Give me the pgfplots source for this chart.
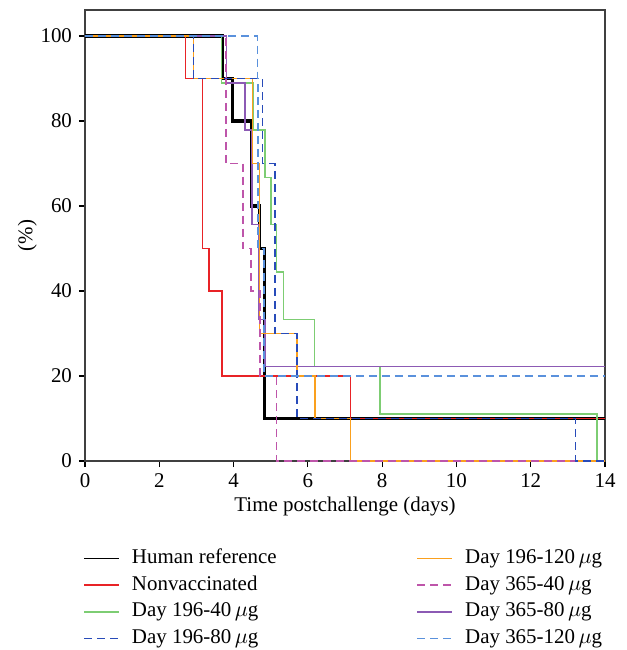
\documentclass[border=0pt]{standalone}
\usepackage{fontspec}
\setmainfont{Liberation Serif}
\usepackage{pgfplots}
\pgfplotsset{compat=1.18}
\definecolor{cRed}{RGB}{232,35,38}
\definecolor{cGreen}{RGB}{125,205,115}
\definecolor{cDBlue}{RGB}{40,75,185}
\definecolor{cOrange}{RGB}{250,160,30}
\definecolor{cPink}{RGB}{190,85,170}
\definecolor{cPurple}{RGB}{140,90,180}
\definecolor{cLBlue}{RGB}{90,145,220}
\begin{document}
\begin{tikzpicture}
\begin{axis}[
    scale only axis,
    width=260bp,
    height=225.5bp,
    xmin=0, xmax=14,
    ymin=0, ymax=106.1,
    xtick={0,2,...,14},
    ytick={0,20,...,100},
    tick pos=left,
    tick align=outside,
    major tick length=3bp,
    tick style={black, line width=0.6bp},
    axis line style={black!75, line width=0.7bp},
    clip=false,
    /pgf/number format/assume math mode=true,
    ticklabel style={font=\fontsize{10.5}{12}\selectfont},
    label style={font=\fontsize{10.5}{12}\selectfont},
    xlabel={Time postchallenge (days)},
    ylabel={(\%)},
    xlabel shift=-2.5bp,
    ylabel shift=-5bp,
    legend columns=2,
    legend cell align=left,
    legend style={
        at={(0,0)}, anchor=north west,
        xshift=-1bp, yshift=-43.5bp,
        draw=none, fill=none, inner sep=0pt,
        row sep=3.35bp, column sep=6bp,
        font=\fontsize{10.5}{12}\selectfont,
        nodes={inner sep=0pt, text height=7.5bp, text depth=2.5bp},
        /tikz/every even column/.append style={column sep=70bp},
    },
    legend image code/.code={\draw (0bp,0bp) -- (17.5bp,0bp);},
]
% Human reference
\addplot[const plot, black, line width=1.6bp, forget plot] coordinates {
    (0,100) (3.70,90) (3.98,80) (4.49,60) (4.70,50) (4.83,10) (14,10)
};
% Nonvaccinated
\addplot[const plot, cRed, line width=0.8bp, forget plot] coordinates {
    (0,100) (2.71,90) (3.16,50) (3.34,40) (3.69,20) (7.15,10) (14,10)
};
% Day 196-40
\addplot[const plot, cGreen, line width=0.8bp, forget plot] coordinates {
    (0,100) (3.68,88.9) (4.52,77.8) (4.85,66.7) (5.00,55.6) (5.16,44.4)
    (5.34,33.3) (6.18,22.2) (7.94,11.1) (13.78,0) (14,0)
};
% Day 365-80
\addplot[const plot, cPurple, line width=0.8bp, forget plot] coordinates {
    (0,100) (3.81,88.9) (4.31,77.8) (4.49,55.6) (4.68,33.3) (4.85,22.2) (14,22.2)
};
% Day 196-120
\addplot[const plot, cOrange, line width=0.8bp, forget plot] coordinates {
    (0,100) (2.92,90) (4.51,70) (4.70,30) (5.70,20) (6.19,10) (7.15,0) (14,0)
};
% Day 365-40
\addplot[const plot, cPink, line width=0.8bp, dash pattern=on 4bp off 2.5bp, forget plot] coordinates {
    (0,100) (3.80,70) (4.26,50) (4.47,40) (4.71,20) (5.16,0) (14,0)
};
% Day 196-80
\addplot[const plot, cDBlue, line width=0.8bp, dash pattern=on 4bp off 2.5bp, forget plot] coordinates {
    (0,100) (2.92,90) (4.78,70) (5.12,30) (5.70,10) (13.21,0) (14,0)
};
% Day 365-120
\addplot[const plot, cLBlue, line width=0.8bp, dash pattern=on 4bp off 2.5bp, forget plot] coordinates {
    (0,100) (4.64,90) (4.66,50) (4.82,20) (14,20)
};
\addlegendimage{black, line width=0.8bp}
\addlegendimage{cOrange, line width=0.8bp}
\addlegendimage{cRed, line width=0.8bp}
\addlegendimage{cPink, line width=0.8bp, dash pattern=on 4bp off 2.5bp}
\addlegendimage{cGreen, line width=0.8bp}
\addlegendimage{cPurple, line width=0.8bp}
\addlegendimage{cDBlue, line width=0.8bp, dash pattern=on 4bp off 2.5bp}
\addlegendimage{cLBlue, line width=0.8bp, dash pattern=on 4bp off 2.5bp}
\legend{Human reference, Day 196-120\,$\mu$g, Nonvaccinated, Day 365-40\,$\mu$g,
    Day 196-40\,$\mu$g, Day 365-80\,$\mu$g, Day 196-80\,$\mu$g, Day 365-120\,$\mu$g}
\end{axis}
\pgfresetboundingbox
\path (-42.5bp,-94.5bp) rectangle (271bp,230.5bp);
\end{tikzpicture}
\end{document}
